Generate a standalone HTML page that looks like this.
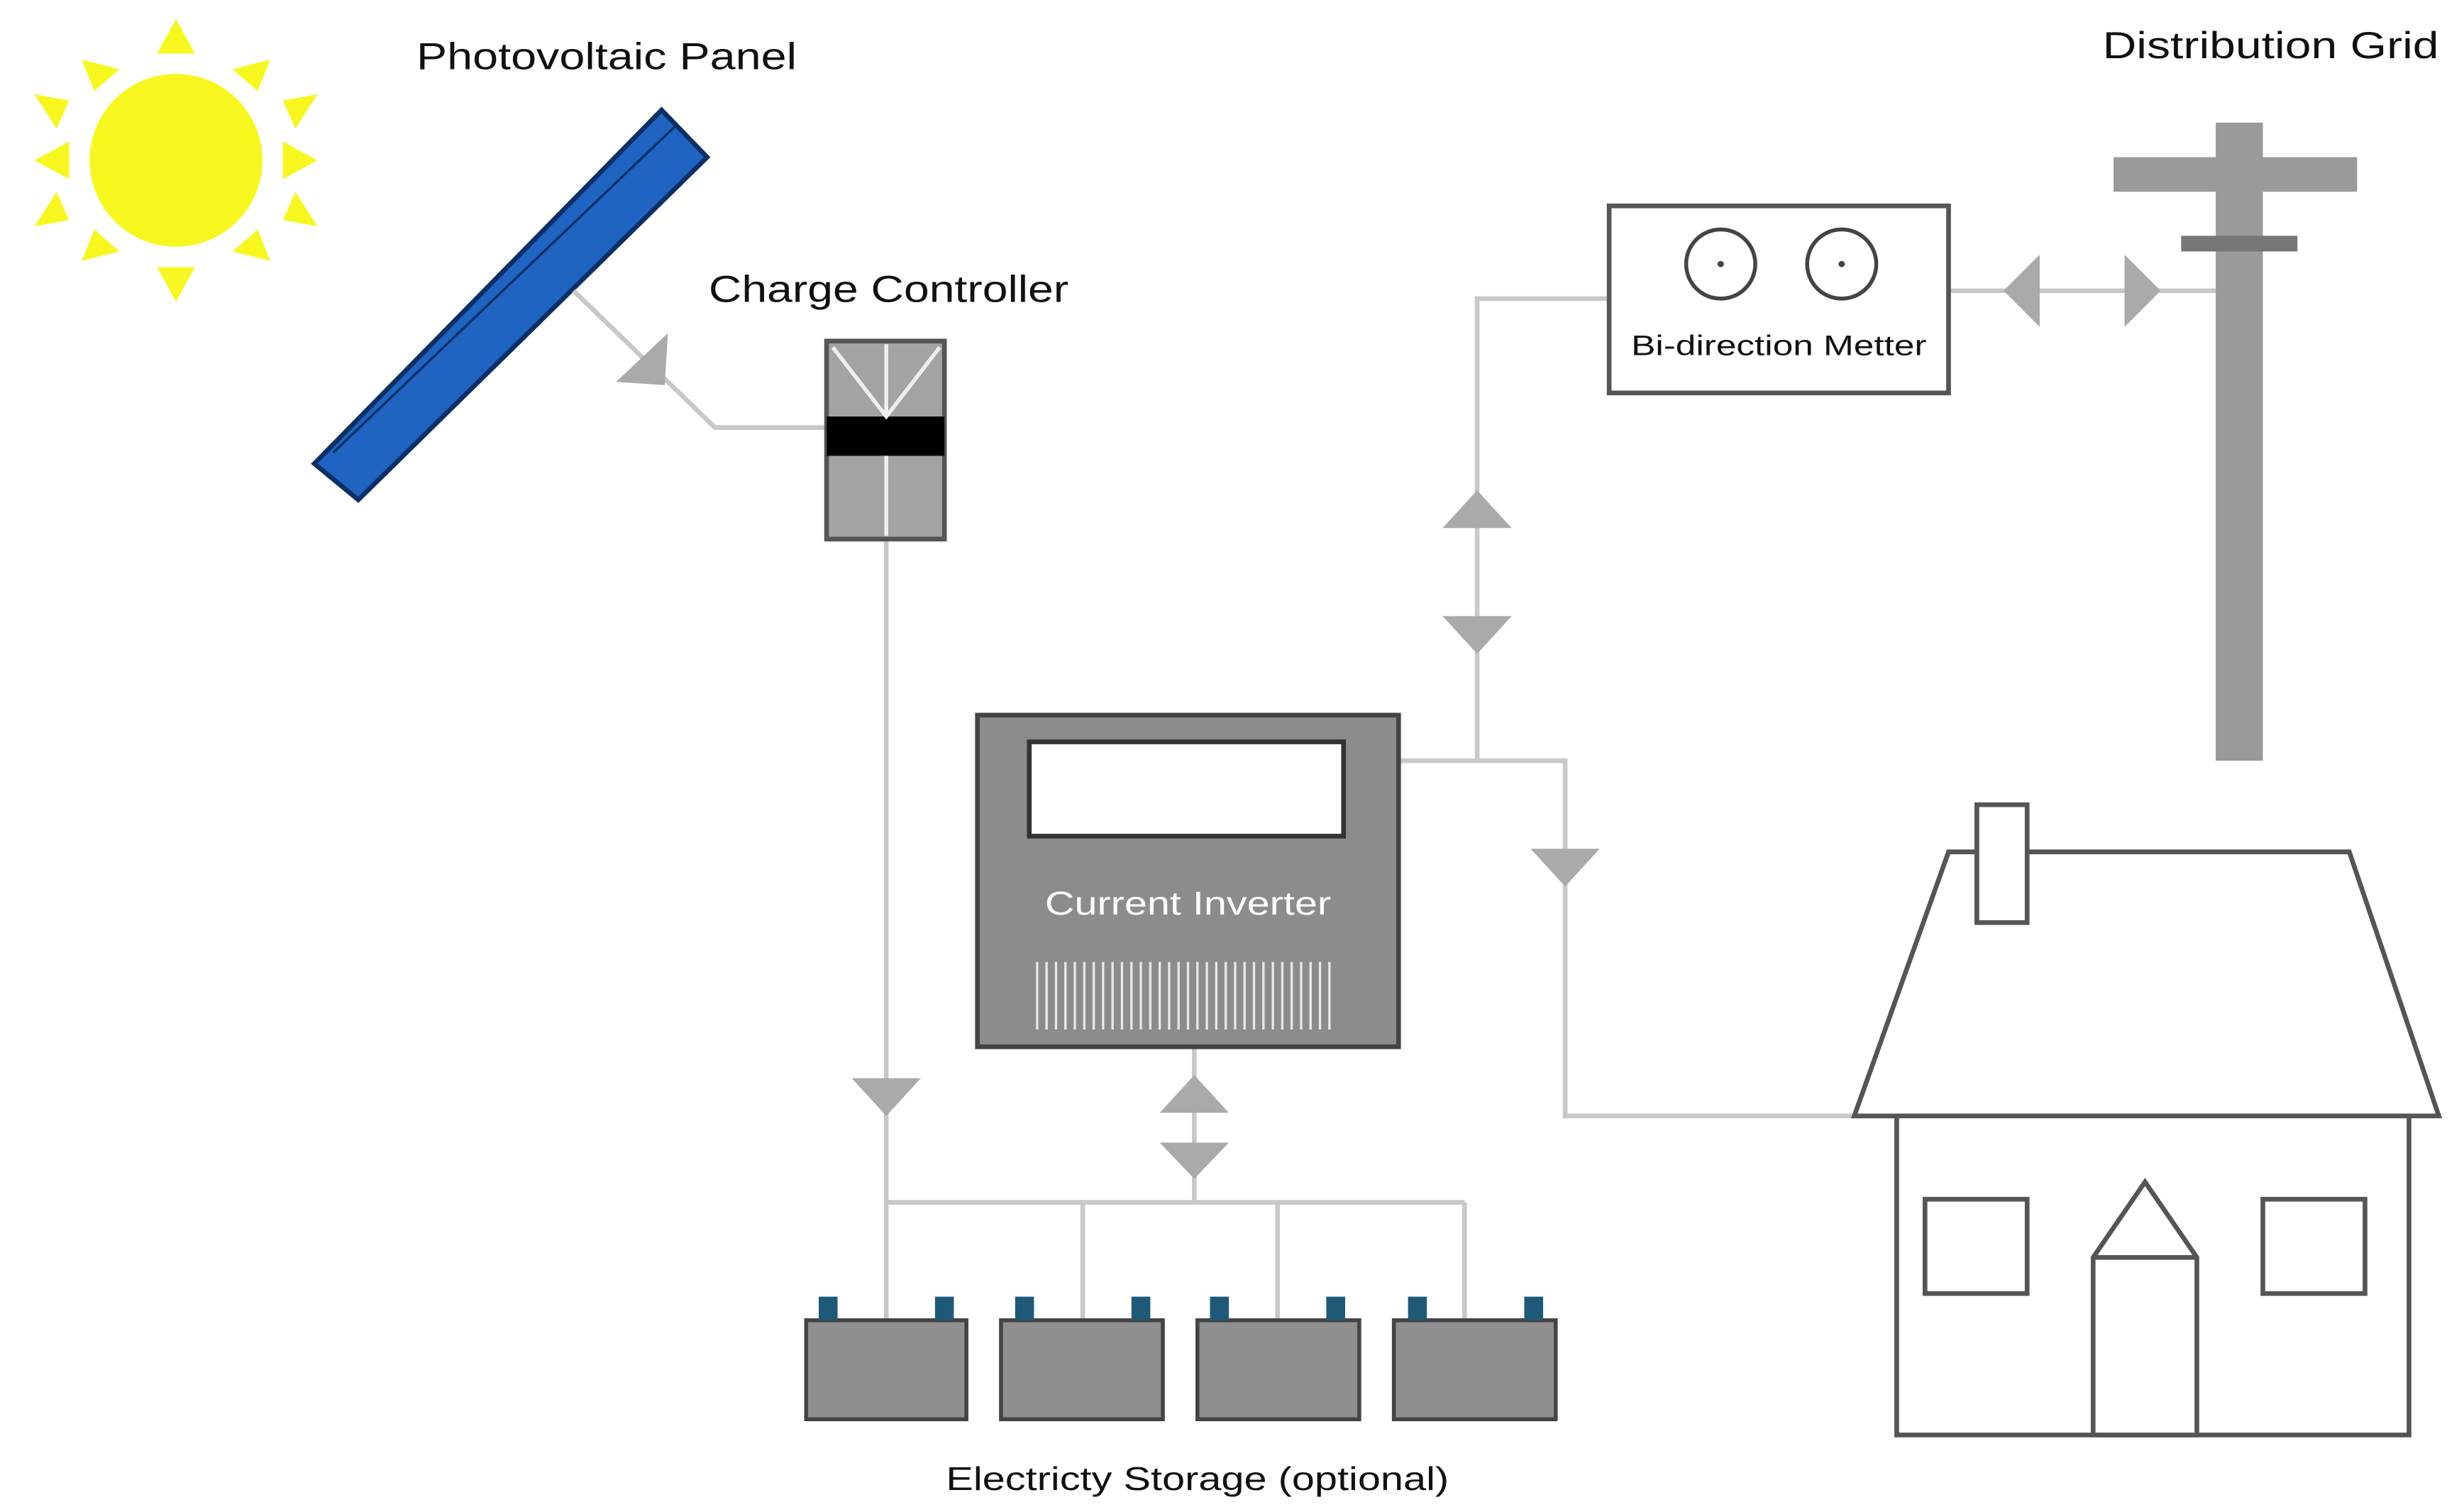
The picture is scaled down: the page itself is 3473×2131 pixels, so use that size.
<!DOCTYPE html>
<html><head><meta charset="utf-8"><style>
html,body{margin:0;padding:0;background:#fff;}
svg{display:block;}
text{font-family:"Liberation Sans",sans-serif;}
</style></head><body>
<svg width="3473" height="2131" viewBox="0 0 1568 962" preserveAspectRatio="none" xmlns="http://www.w3.org/2000/svg">
<rect width="1568" height="962" fill="#fff"/>
<!-- sun -->
<circle cx="112" cy="102" r="55" fill="#f7f71f"/>
<g fill="#f7f71f">
<polygon points="112,12 100,34 124,34"/>
<polygon points="112,192 100,170 124,170"/>
<polygon points="22,102 44,90 44,114"/>
<polygon points="202,102 180,90 180,114"/>
<polygon points="52,38 60,58 76,44" />
<polygon points="172,38 148,44 164,58"/>
<polygon points="52,166 60,146 76,160"/>
<polygon points="172,166 148,160 164,146"/>
<polygon points="22,60 44,64 36,82"/>
<polygon points="202,60 180,64 188,82"/>
<polygon points="22,144 44,140 36,122"/>
<polygon points="202,144 180,140 188,122"/>
</g>
<text x="265" y="44" font-size="24" fill="#111" textLength="242" lengthAdjust="spacingAndGlyphs">Photovoltaic Panel</text>
<!-- panel -->
<polygon points="200,295 228,318 450,100 421,70" fill="#1e64c0" stroke="#0c2f66" stroke-width="3"/>
<line x1="212" y1="288" x2="430" y2="80" stroke="#0c2f66" stroke-width="1.5"/>
<!-- connectors -->
<g stroke="#c8c8c8" stroke-width="3" fill="none">
<polyline points="365,185 455,272 526,272"/>
<line x1="564" y1="343" x2="564" y2="765"/>
<polyline points="564,765 932,765"/>
<line x1="564" y1="765" x2="564" y2="840"/>
<line x1="689" y1="765" x2="689" y2="840"/>
<line x1="813" y1="765" x2="813" y2="840"/>
<line x1="932" y1="765" x2="932" y2="840"/>
<line x1="760" y1="666" x2="760" y2="765"/>
<polyline points="890,484 996,484 996,710 1207,710"/>
<polyline points="940,484 940,190 1024,190"/>
<line x1="1240" y1="185" x2="1410" y2="185"/>
</g>
<g fill="#aaaaaa">
<polygon points="392,243 425,212 423,245"/>
<polygon points="542,686 586,686 564,710"/>
<polygon points="738,708 782,708 760,684"/>
<polygon points="738,727 782,727 760,750"/>
<polygon points="918,336 962,336 940,312"/>
<polygon points="918,392 962,392 940,416"/>
<polygon points="974,540 1018,540 996,564"/>
<polygon points="1275,185 1298,162 1298,208"/>
<polygon points="1375,185 1352,162 1352,208"/>
</g>
<text x="451" y="192" font-size="24" fill="#111" textLength="229" lengthAdjust="spacingAndGlyphs">Charge Controller</text>
<!-- charge controller -->
<rect x="526" y="217" width="75" height="126" fill="#a3a3a3" stroke="#555" stroke-width="3"/>
<rect x="526" y="265" width="75" height="25" fill="#000"/>
<g stroke="#eee" stroke-width="2.5" fill="none">
<polyline points="530,221 564,265 598,221"/>
<line x1="564" y1="219" x2="564" y2="265"/>
<line x1="564" y1="290" x2="564" y2="341"/>
</g>
<!-- batteries -->
<g fill="#8f8f8f" stroke="#444" stroke-width="2.5">
<rect x="513" y="840" width="102" height="63"/>
<rect x="637" y="840" width="103" height="63"/>
<rect x="762" y="840" width="103" height="63"/>
<rect x="887" y="840" width="103" height="63"/>
</g>
<g fill="#1e5a78">
<rect x="521" y="825" width="12" height="15"/><rect x="595" y="825" width="12" height="15"/>
<rect x="646" y="825" width="12" height="15"/><rect x="720" y="825" width="12" height="15"/>
<rect x="770" y="825" width="12" height="15"/><rect x="844" y="825" width="12" height="15"/>
<rect x="896" y="825" width="12" height="15"/><rect x="970" y="825" width="12" height="15"/>
</g>
<text x="602" y="948" font-size="21" fill="#111" textLength="320" lengthAdjust="spacingAndGlyphs">Electricty Storage (optional)</text>
<!-- inverter -->
<rect x="622" y="455" width="268" height="211" fill="#8c8c8c" stroke="#444" stroke-width="3"/>
<rect x="655" y="472" width="200" height="60" fill="#fff" stroke="#333" stroke-width="3"/>
<text x="665" y="582" font-size="21" fill="#fff" textLength="182" lengthAdjust="spacingAndGlyphs">Current Inverter</text>
<g stroke="#e8e8e8" stroke-width="1.5">
<path d="M660 612V655M666 612V655M672 612V655M678 612V655M684 612V655M690 612V655M696 612V655M702 612V655M708 612V655M714 612V655M720 612V655M726 612V655M732 612V655M738 612V655M744 612V655M750 612V655M756 612V655M762 612V655M768 612V655M774 612V655M780 612V655M786 612V655M792 612V655M798 612V655M804 612V655M810 612V655M816 612V655M822 612V655M828 612V655M834 612V655M840 612V655M846 612V655"/>
</g>
<!-- meter -->
<rect x="1024" y="131" width="216" height="119" fill="#fff" stroke="#555" stroke-width="3"/>
<circle cx="1095" cy="168" r="22" fill="none" stroke="#444" stroke-width="2.5"/>
<circle cx="1172" cy="168" r="22" fill="none" stroke="#444" stroke-width="2.5"/>
<circle cx="1095" cy="168" r="2" fill="#444"/><circle cx="1172" cy="168" r="2" fill="#444"/>
<text x="1038" y="226" font-size="18" fill="#111" textLength="188" lengthAdjust="spacingAndGlyphs">Bi-direction Metter</text>
<!-- pole -->
<text x="1338" y="37" font-size="24" fill="#111" textLength="214" lengthAdjust="spacingAndGlyphs">Distribution Grid</text>
<rect x="1410" y="78" width="30" height="406" fill="#9a9a9a"/>
<rect x="1345" y="100" width="155" height="22" fill="#9a9a9a"/>
<rect x="1388" y="150" width="74" height="10" fill="#777"/>
<!-- house -->
<g fill="#fff" stroke="#555" stroke-width="3">
<polygon points="1180,710 1240,542 1495,542 1552,710"/>
<rect x="1258" y="512" width="32" height="75"/>
<rect x="1207" y="710" width="326" height="203"/>
<rect x="1225" y="763" width="65" height="60"/>
<rect x="1440" y="763" width="65" height="60"/>
<polygon points="1332,913 1332,800 1365,752 1398,800 1398,913"/>
<line x1="1332" y1="800" x2="1398" y2="800"/>
</g>
</svg>
</body></html>
